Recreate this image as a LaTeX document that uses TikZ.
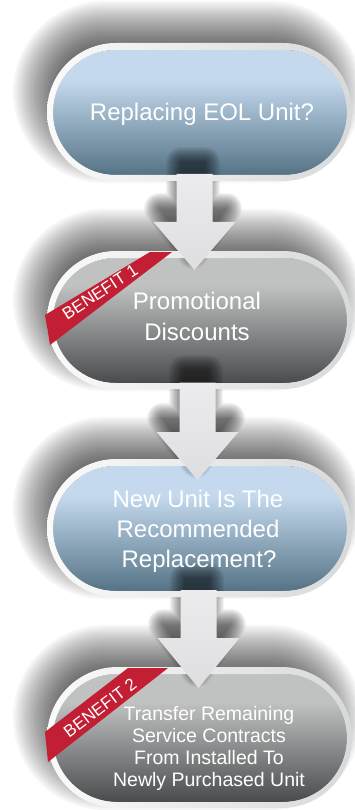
\documentclass[tikz,border=0pt]{standalone}
\usepackage{fontspec}
\setmainfont{Liberation Sans}
\usetikzlibrary{calc}
\definecolor{bluetop}{HTML}{C4D9EE}
\definecolor{bluebot}{HTML}{557385}
\definecolor{graytop}{HTML}{C0C1C1}
\definecolor{graybot}{HTML}{4A4B4D}
\definecolor{rimL}{HTML}{FAFAFA}
\definecolor{rimR}{HTML}{D8D9DA}
\definecolor{arrowA}{HTML}{ECECEE}
\definecolor{arrowB}{HTML}{DEDEE0}
\definecolor{ribbonred}{HTML}{C21E34}
\pgfdeclareverticalshading{blueshade}{100bp}{color(0bp)=(bluebot); color(25bp)=(bluebot); color(63bp)=(bluetop); color(100bp)=(bluetop)}
\pgfdeclareverticalshading{grayshade}{100bp}{color(0bp)=(graybot); color(25bp)=(graybot); color(64bp)=(graytop); color(100bp)=(graytop)}
% soft shadow of a stadium (x1,y1)-(x2,y2)
\newcommand\boxshadow[4]{%
  \foreach \i in {0,...,20}{%
    \pgfmathsetmacro\xa{#1-22+2.2*\i}%
    \pgfmathsetmacro\ya{#2-22+2.2*\i}%
    \pgfmathsetmacro\xb{#3+22-2.2*\i}%
    \pgfmathsetmacro\yb{#4+22-2.2*\i}%
    \pgfmathsetmacro\rr{(#4-#2)/2+22-2.2*\i-0.05}%
    \fill[black, opacity=0.035, rounded corners=\rr pt] (\xa,\ya) rectangle (\xb,\yb);
  }}
\newcommand\arrowpath[4]{({#1-18},#3) -- ({#1-18},#2) -- ({#1+18},#2) -- ({#1+18},#3) -- ({#1+41},#3) -- (#1,#4) -- ({#1-41},#3) -- cycle}
\newcommand\arrowpathS[4]{({#1-12},#3) -- ({#1-12},#2) -- ({#1+12},#2) -- ({#1+12},#3) -- ({#1+34},#3) -- (#1,#4) -- ({#1-34},#3) -- cycle}
\newcommand\arrowshadow[4]{%
  \foreach \i in {0,...,15}{%
    \pgfmathsetmacro\lw{2*\i+0.01}%
    \begin{scope}[transparency group, opacity=0.045]
      \filldraw[black, line width=\lw pt, line join=round] \arrowpathS{#1}{#2}{#3}{#4};
    \end{scope}
  }}
\newcommand\boxrim[4]{%
  \pgfmathsetmacro\ro{(#4-#2)/2-0.05}%
  \pgfmathsetmacro\ri{(#4-#2)/2-6.55}%
  \shade[even odd rule, left color=rimL, right color=rimR]
    [rounded corners=\ro pt] (#1,#2) rectangle (#3,#4)
    [rounded corners=\ri pt] ({#1+6},{#2+7}) rectangle ({#3-5},{#4-6});
}
\newcommand\boxfill[5]{%
  \pgfmathsetmacro\ri{(#4-#2)/2-6.55}%
  \shade[shading=#5, rounded corners=\ri pt] ({#1+6},{#2+7}) rectangle ({#3-5},{#4-6});
}
\tikzset{
  bigtxt/.style={text=white, font=\fontsize{24}{28}\selectfont, anchor=base, inner sep=0pt},
  smalltxt/.style={text=white, font=\fontsize{19.5}{22}\selectfont, anchor=base, inner sep=0pt},
  ribtxt/.style={text=white, font=\fontsize{17}{20}\selectfont, inner sep=0pt},
  ribbon/.style={fill=ribbonred},
  blockarrow/.style={top color=arrowA, bottom color=arrowB}
}
\begin{document}
\begin{tikzpicture}[x=1pt,y=-1pt]
\useasboundingbox (0,0) rectangle (355,810);
\fill[white] (0,0) rectangle (355,810);
% box shadows
\boxshadow{35}{23}{340}{161}
\boxshadow{35}{231}{340}{369}
\boxshadow{35}{439}{340}{577}
\boxshadow{35}{647}{340}{788}
% box interiors
\boxfill{47}{43}{352}{181}{blueshade}
\boxfill{47}{251}{352}{389}{grayshade}
\boxfill{47}{459}{352}{597}{blueshade}
\boxfill{47}{667}{352}{808}{grayshade}
% arrow shadows
\arrowshadow{193}{162}{208}{254}
\arrowshadow{196}{370}{418}{463}
\arrowshadow{197}{578}{624}{672}
% rims
\boxrim{47}{43}{352}{181}
\boxrim{47}{251}{352}{389}
\boxrim{47}{459}{352}{597}
\boxrim{47}{667}{352}{808}
% arrows
\shade[blockarrow] \arrowpath{194.5}{174}{222}{270};
\shade[blockarrow] \arrowpath{197.5}{382.5}{432}{480};
\shade[blockarrow] \arrowpath{198.5}{590}{638}{688};
% ribbons
\fill[ribbon] (45,315) -- (150,252) -- (172,252) -- (50,345) -- cycle;
\node[ribtxt, rotate=33] (r1) at (100,292) {BENEFIT 1};
\fill[ribbon] (45,732) -- (128,668) -- (168,668) -- (48,762) -- cycle;
\node[ribtxt, rotate=37] (r2) at (100,708) {BENEFIT 2};
% texts
\node[bigtxt] (t1) at (202,121) {Replacing EOL Unit?};
\node[bigtxt] (t2a) at (197,309) {Promotional};
\node[bigtxt] (t2b) at (197,340) {Discounts};
\node[bigtxt] (t3a) at (198,507) {New Unit Is The};
\node[bigtxt] (t3b) at (198,537) {Recommended};
\node[bigtxt] (t3c) at (199,567) {Replacement?};
\node[smalltxt] (t4a) at (209,720) {Transfer Remaining};
\node[smalltxt] (t4b) at (209,742) {Service Contracts};
\node[smalltxt] (t4c) at (209,764) {From Installed To};
\node[smalltxt] (t4d) at (209,786) {Newly Purchased Unit};
\end{tikzpicture}
\end{document}
